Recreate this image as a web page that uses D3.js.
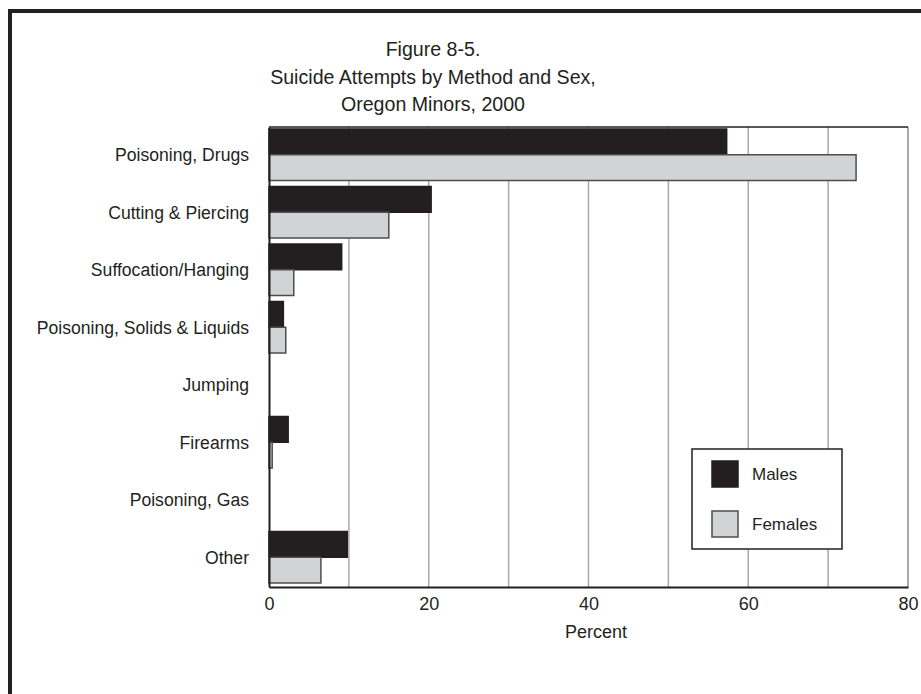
<!DOCTYPE html>
<html>
<head>
<meta charset="utf-8">
<script src="https://cdn.jsdelivr.net/npm/d3@7"></script>
<style>
  body { margin: 0; background: #fff; }
  svg text { font-family: "Liberation Sans", Arial, sans-serif; fill: #231f20; }
</style>
</head>
<body>
<script>
// data
var categories = ["Poisoning, Drugs", "Cutting & Piercing", "Suffocation/Hanging",
  "Poisoning, Solids & Liquids", "Jumping", "Firearms", "Poisoning, Gas", "Other"];
var males   = [57.3, 20.3, 9.1, 1.8, 0, 2.4, 0, 9.8];
var females = [73.5, 15.0, 3.1, 2.1, 0, 0.4, 0, 6.5];
var series = ["Males", "Females"];
var xTicks = [0, 20, 40, 60, 80];
var gridTicks = [10, 20, 30, 40, 50, 60, 70];
var titleLines = ["Figure 8-5.", "Suicide Attempts by Method and Sex,", "Oregon Minors, 2000"];

var width = 921, height = 694;
var m = { left: 269, right: 908, top: 127, bottom: 587 };

var colors = { Males: "#231f20", Females: "#d1d3d4" };
var strokes = { Males: "#231f20", Females: "#4d4d4f" };

var svg = d3.select("body").append("svg")
    .attr("width", width)
    .attr("height", height);

// outer frame
svg.append("rect")
    .attr("x", 10).attr("y", 11)
    .attr("width", 930).attr("height", 700)
    .attr("fill", "none")
    .attr("stroke", "#231f20")
    .attr("stroke-width", 4);

var x = d3.scaleLinear().domain([0, 80]).range([m.left, m.right]);
var y = d3.scaleBand().domain(categories).range([m.top, m.bottom]);
var ySub = d3.scaleBand().domain(series).range([2, y.bandwidth() - 4]);

// grid
svg.append("g").selectAll("line")
  .data(gridTicks)
  .join("line")
    .attr("x1", d => x(d)).attr("x2", d => x(d))
    .attr("y1", m.top).attr("y2", m.bottom)
    .attr("stroke", "#a7a9ac")
    .attr("stroke-width", 1.5);

// right edge + top edge of plot
svg.append("line")
    .attr("x1", m.right).attr("x2", m.right).attr("y1", m.top).attr("y2", m.bottom)
    .attr("stroke", "#8a8c8e").attr("stroke-width", 1.5);
svg.append("line")
    .attr("x1", m.left).attr("x2", m.right).attr("y1", m.top).attr("y2", m.top)
    .attr("stroke", "#231f20").attr("stroke-width", 1.5);

// bars
var rows = categories.map((c, i) => ({ cat: c, vals: [
  { key: "Males", v: males[i] }, { key: "Females", v: females[i] }] }));

var g = svg.append("g").selectAll("g")
  .data(rows)
  .join("g")
    .attr("transform", d => "translate(0," + y(d.cat) + ")");

g.selectAll("rect")
  .data(d => d.vals.filter(e => e.v > 0))
  .join("rect")
    .attr("x", x(0))
    .attr("y", d => ySub(d.key))
    .attr("width", d => x(d.v) - x(0))
    .attr("height", ySub.bandwidth())
    .attr("fill", d => colors[d.key])
    .attr("stroke", d => strokes[d.key])
    .attr("stroke-width", 1.5);

// axes
var xAxis = svg.append("g")
    .attr("transform", "translate(0," + m.bottom + ")")
    .call(d3.axisBottom(x).tickValues(xTicks).tickSize(0).tickPadding(10));
xAxis.select(".domain").attr("stroke", "#231f20").attr("stroke-width", 2);
xAxis.selectAll("text")
    .style("font-family", "Liberation Sans, Arial, sans-serif")
    .style("font-size", "18px")
    .attr("fill", "#231f20");

var yAxis = svg.append("g")
    .attr("transform", "translate(" + m.left + ",0)")
    .call(d3.axisLeft(y).tickSize(0).tickPadding(20));
yAxis.select(".domain").attr("stroke", "#231f20").attr("stroke-width", 2);
yAxis.selectAll("text")
    .style("font-family", "Liberation Sans, Arial, sans-serif")
    .style("font-size", "17.6px")
    .attr("fill", "#231f20");

svg.append("text")
    .attr("x", 596)
    .attr("y", 638)
    .attr("text-anchor", "middle")
    .style("font-size", "18px")
    .text("Percent");

// title
svg.append("g").selectAll("text")
  .data(titleLines)
  .join("text")
    .attr("x", 433)
    .attr("y", (d, i) => 56 + i * 27.5)
    .attr("text-anchor", "middle")
    .style("font-size", "19.6px")
    .text(d => d);

// legend
var legend = svg.append("g").attr("transform", "translate(692,449)");
legend.append("rect")
    .attr("width", 150).attr("height", 100)
    .attr("fill", "#fff")
    .attr("stroke", "#231f20").attr("stroke-width", 1.5);
var li = legend.selectAll("g.item")
  .data(series)
  .join("g")
    .attr("class", "item")
    .attr("transform", (d, i) => "translate(20," + (12 + i * 50) + ")");
li.append("rect")
    .attr("width", 26).attr("height", 26)
    .attr("fill", d => colors[d])
    .attr("stroke", d => strokes[d]).attr("stroke-width", 1.5);
li.append("text")
    .attr("x", 40).attr("y", 19)
    .style("font-size", "17px")
    .text(d => d);
</script>
</body>
</html>
